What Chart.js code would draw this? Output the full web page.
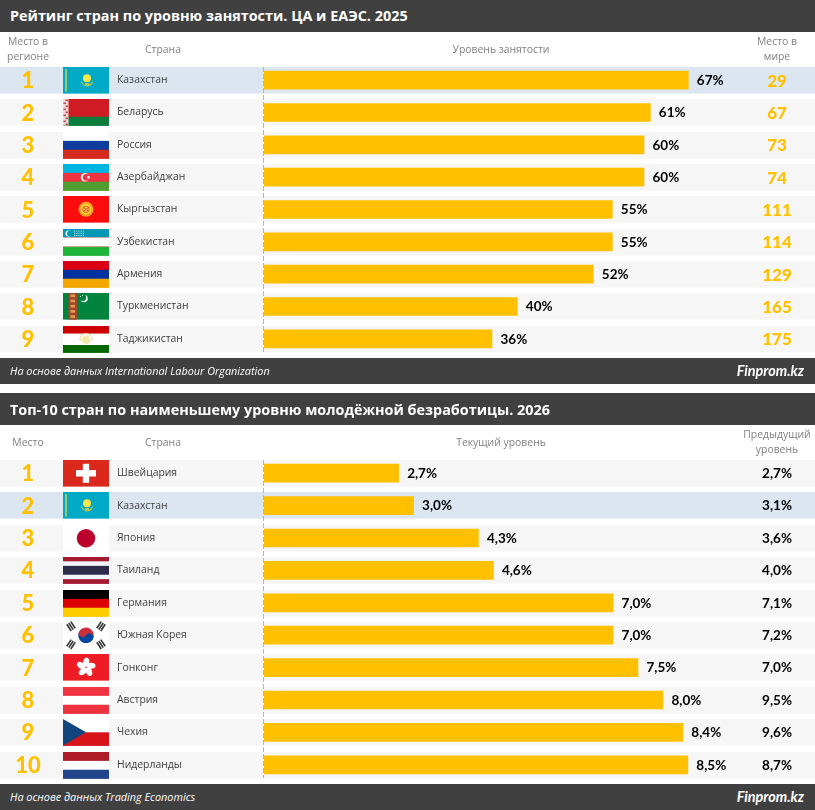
<!DOCTYPE html>
<html lang="ru">
<head>
<meta charset="utf-8">
<script src="https://cdn.jsdelivr.net/npm/chart.js@4"></script>
<style>
html,body{margin:0;padding:0;background:#fff;width:815px;height:810px;overflow:hidden}
#wrap{position:relative;width:815px;height:810px}
canvas{position:absolute;left:0}
.bar{position:absolute;left:0;width:815px;background:#404040}
.t{position:absolute;white-space:nowrap;z-index:3}
.title{left:10px;color:#fff;font:bold 14.4px "Open Sans",sans-serif;line-height:20px}
.src{left:10px;color:#fff;font:italic 10.85px "Open Sans",sans-serif;line-height:16px}
.brand{right:11px;color:#fff;font:italic bold 14.4px "Lato",sans-serif;line-height:18px}
.h{color:#808080;font:10.4px "Open Sans",sans-serif;line-height:15px;text-align:center;transform:translateX(-50%)}
</style>
</head>
<body>
<div id="wrap">
  <canvas id="c1" width="815" height="390" style="top:0;width:815px;height:390px"></canvas>
  <canvas id="c2" width="815" height="420" style="top:390px;width:815px;height:420px"></canvas>

  <div class="bar" style="top:0;height:32px"></div>
  <div class="t title" style="top:6px">Рейтинг стран по уровню занятости. ЦА и ЕАЭС. 2025</div>
  <div class="t h" style="left:28px;top:34px">Место в<br>регионе</div>
  <div class="t h" style="left:163px;top:42px">Страна</div>
  <div class="t h" style="left:501px;top:42px">Уровень занятости</div>
  <div class="t h" style="left:777px;top:34px">Место в<br>мире</div>
  <div class="bar" style="top:358px;height:26px"></div>
  <div class="t src" style="top:363px">На основе данных International Labour Organization</div>
  <div class="t brand" style="top:362px">Finprom.kz</div>

  <div class="bar" style="top:393px;height:32px"></div>
  <div class="t title" style="top:400px">Топ-10 стран по наименьшему уровню молодёжной безработицы. 2026</div>
  <div class="t h" style="left:28px;top:435px">Место</div>
  <div class="t h" style="left:163px;top:435px">Страна</div>
  <div class="t h" style="left:501px;top:435px">Текущий уровень</div>
  <div class="t h" style="left:777px;top:427px">Предыдущий<br>уровень</div>
  <div class="bar" style="top:784px;height:26px"></div>
  <div class="t src" style="top:789px">На основе данных Trading Economics</div>
  <div class="t brand" style="top:788px">Finprom.kz</div>
</div>
<script>
// ---- data: employment ranking ----
const empCountries = ["Казахстан","Беларусь","Россия","Азербайджан","Кыргызстан","Узбекистан","Армения","Туркменистан","Таджикистан"];
const empValues = [67,61,60,60,55,55,52,40,36];
const empRegionRank = [1,2,3,4,5,6,7,8,9];
const empWorldRank = [29,67,73,74,111,114,129,165,175];
const empFlags = ["kz","by","ru","az","kg","uz","am","tm","tj"];

// ---- data: youth unemployment ----
const youthCountries = ["Швейцария","Казахстан","Япония","Таиланд","Германия","Южная Корея","Гонконг","Австрия","Чехия","Нидерланды"];
const youthValues = [2.7,3.0,4.3,4.6,7.0,7.0,7.5,8.0,8.4,8.5];
const youthPrevious = [2.7,3.1,3.6,4.0,7.1,7.2,7.0,9.5,9.6,8.7];
const youthRank = [1,2,3,4,5,6,7,8,9,10];
const youthFlags = ["ch","kz","jp","th","de","kr","hk","at","cz","nl"];

const GOLD = "#ffc000";
const comma = v => v.toFixed(1).replace(".", ",") + "%";

function stripes(c,x,y,w,h,list){
  let total = list.reduce((a,s)=>a+s[1],0), yy = y;
  list.forEach(s=>{const hh=h*s[1]/total;c.fillStyle=s[0];c.fillRect(x,yy,w,hh+0.3);yy+=hh;});
}
function circle(c,x,y,r,col){c.fillStyle=col;c.beginPath();c.arc(x,y,r,0,Math.PI*2);c.fill();}
const flagArt = {
  kz(c,x,y,w,h){
    c.fillStyle="#00a9c6";c.fillRect(x,y,w,h);
    c.fillStyle="#9cc860";c.fillRect(x+2,y+2,2,h-4);
    const cx=x+24,cy=y+h/2;
    c.strokeStyle="#c8c84a";c.lineWidth=1.2;c.beginPath();c.arc(cx,cy-0.5,6,0.1*Math.PI,0.9*Math.PI);c.stroke();
    circle(c,cx,cy-2,4,"#f6e84a");
    c.fillStyle="#d8d050";c.fillRect(cx-2,cy+3,4,1.5);
  },
  by(c,x,y,w,h){
    stripes(c,x,y,w,h,[["#cf1c24",2],["#0a7d3a",1]]);
    c.fillStyle="#f0d8d8";c.fillRect(x,y,5.5,h);
    c.fillStyle="#cf4a50";
    for(let i=0;i<9;i++){c.fillRect(x+(i%2?0.5:2.5),y+i*3+0.5,2.5,1.6);}
  },
  ru(c,x,y,w,h){stripes(c,x,y,w,h,[["#ffffff",1],["#0d3b9e",1],["#d52b1e",1]]);},
  az(c,x,y,w,h){
    stripes(c,x,y,w,h,[["#00b5e2",1],["#ef3340",1],["#509e2f",1]]);
    const cx=x+22,cy=y+h/2;
    circle(c,cx,cy,4.2,"#fff");circle(c,cx+1.2,cy,3.4,"#ef3340");
    circle(c,cx+3.5,cy,1.4,"#fff");
  },
  kg(c,x,y,w,h){
    c.fillStyle="#fb0d0d";c.fillRect(x,y,w,h);
    circle(c,x+23,y+h/2,7.5,"#f5a623");circle(c,x+23,y+h/2,5,"#ffe23a");
    c.strokeStyle="#e8402a";c.lineWidth=1;
    c.beginPath();c.arc(x+23,y+h/2,3.2,0,Math.PI*2);
    c.moveTo(x+20.5,y+h/2-2);c.lineTo(x+25.5,y+h/2+2);c.moveTo(x+25.5,y+h/2-2);c.lineTo(x+20.5,y+h/2+2);c.stroke();
  },
  uz(c,x,y,w,h){
    stripes(c,x,y,w,h,[["#0099b5",31],["#f0a0a0",3],["#ffffff",30],["#f0a0a0",3],["#1eb53a",33]]);
    const cy=y+4.5;
    circle(c,x+5.5,cy,3,"#fff");circle(c,x+6.7,cy,2.7,"#0099b5");
    c.fillStyle="#d5eef2";
    for(let r=0;r<3;r++)for(let q=0;q<5;q++)c.fillRect(x+11+q*2.2,y+1.6+r*2.2,1,1);
  },
  am(c,x,y,w,h){stripes(c,x,y,w,h,[["#d90012",1],["#0033a0",1],["#f2a800",1]]);},
  tm(c,x,y,w,h){
    c.fillStyle="#00843d";c.fillRect(x,y,w,h);
    c.fillStyle="#a8442c";c.fillRect(x+5.5,y,8.5,h);
    c.fillStyle="#d8a050";
    for(let i=0;i<5;i++){c.fillRect(x+7.5,y+1.5+i*5.2,4.5,2.6);}
    circle(c,x+21,y+5.5,3.8,"#e8f5e8");circle(c,x+19.6,y+4.6,3.5,"#00843d");
    c.fillStyle="#e8f5e8";c.fillRect(x+17,y+3,1,1);c.fillRect(x+19,y+2,1,1);
  },
  tj(c,x,y,w,h){
    stripes(c,x,y,w,h,[["#cc0000",2],["#ffffff",3],["#006600",2]]);
    circle(c,x+23,y+h/2+0.5,4.2,"#f4e9a8");
    c.strokeStyle="#e8d580";c.lineWidth=1;c.beginPath();c.arc(x+23,y+h/2,6,0.9*Math.PI,2.1*Math.PI);c.stroke();
  },
  ch(c,x,y,w,h){
    c.fillStyle="#da291c";c.fillRect(x,y,w,h);
    const cx=x+23,cy=y+h/2;
    c.fillStyle="#fff";c.fillRect(cx-10,cy-3.2,20,6.4);c.fillRect(cx-3.2,cy-9.5,6.4,19);
  },
  jp(c,x,y,w,h){c.fillStyle="#fff";c.fillRect(x,y,w,h);circle(c,x+23,y+h/2,9.2,"#bc002d");},
  th(c,x,y,w,h){stripes(c,x,y,w,h,[["#a51931",1],["#f4f5f8",1],["#2d2a4a",2],["#f4f5f8",1],["#a51931",1]]);},
  de(c,x,y,w,h){stripes(c,x,y,w,h,[["#000000",1],["#dd0000",1],["#ffce00",1]]);},
  kr(c,x,y,w,h){
    c.fillStyle="#fff";c.fillRect(x,y,w,h);
    const cx=x+23,cy=y+h/2,r=7.8;
    c.save();c.translate(cx,cy);c.rotate(0.55);
    c.fillStyle="#cd2e3a";c.beginPath();c.arc(0,0,r,Math.PI,0);c.fill();
    c.fillStyle="#0047a0";c.beginPath();c.arc(0,0,r,0,Math.PI);c.fill();
    circle(c,-r/2,0,r/2,"#cd2e3a");circle(c,r/2,0,r/2,"#0047a0");
    c.restore();
    c.fillStyle="#333";
    [[-15,-9,0.98],[15,-9,-0.98],[-15,9,-0.98],[15,9,0.98]].forEach(t=>{
      c.save();c.translate(cx+t[0],cy+t[1]);c.rotate(t[2]);
      for(let i=-1;i<=1;i++)c.fillRect(-4,i*2.4-0.8,8,1.6);
      c.restore();
    });
  },
  hk(c,x,y,w,h){
    c.fillStyle="#ee1c25";c.fillRect(x,y,w,h);
    const cx=x+23,cy=y+h/2;
    c.fillStyle="#fff";
    for(let i=0;i<5;i++){
      c.save();c.translate(cx,cy);c.rotate(i*2*Math.PI/5);
      c.beginPath();c.ellipse(0,-5,3,4.8,0.3,0,Math.PI*2);c.fill();
      c.restore();
    }
    circle(c,cx,cy,0.8,"#ee1c25");
  },
  at(c,x,y,w,h){stripes(c,x,y,w,h,[["#ef3340",1],["#ffffff",1],["#ef3340",1]]);},
  cz(c,x,y,w,h){
    stripes(c,x,y,w,h,[["#ffffff",1],["#d7141a",1]]);
    c.fillStyle="#11457e";c.beginPath();c.moveTo(x,y);c.lineTo(x+23,y+h/2);c.lineTo(x,y+h);c.closePath();c.fill();
  },
  nl(c,x,y,w,h){stripes(c,x,y,w,h,[["#ae1c28",1],["#ffffff",1],["#21468b",1]]);}
};

// Row bands, flags, ranks and side columns, all hung on the chart's own category scale.
const tablePlugin = {
  id:"table",
  beforeDraw(chart,args,o){
    const c=chart.ctx, ys=chart.scales.y, n=chart.data.labels.length;
    c.save();
    for(let i=0;i<n;i++){
      const cy=ys.getPixelForValue(i), top=Math.round(cy-13.2), h=26.6;
      c.fillStyle = i===o.highlight ? "#dce6f1" : "#f6f6f6";
      c.fillRect(0,top,815,h);
      flagArt[o.flags[i]](c,63,top,46,h);
    }
    c.restore();
  },
  afterDatasetsDraw(chart,args,o){
    const c=chart.ctx, ys=chart.scales.y, xs=chart.scales.x, vals=chart.data.datasets[0].data;
    c.save();
    // dashed zero line just left of the bars
    const ax=Math.floor(xs.getPixelForValue(0))-0.5;
    c.strokeStyle="#b4b4b4";c.lineWidth=1;c.setLineDash([5,2]);
    c.beginPath();c.moveTo(ax,chart.chartArea.top+3);c.lineTo(ax,chart.chartArea.bottom-3);c.stroke();
    c.setLineDash([]);
    c.textBaseline="middle";
    vals.forEach((v,i)=>{
      const cy=ys.getPixelForValue(i);
      c.textAlign="left";c.fillStyle="#000";c.font='bold 13.5px "Lato",sans-serif';
      c.fillText(o.fmt(v),xs.getPixelForValue(v)+8.5,cy+0.5);
      c.textAlign="center";c.fillStyle=GOLD;c.font='900 22px "Lato",sans-serif';
      c.fillText(String(o.ranks[i]),28,cy+1);
      if(o.sideGold){
        c.font='900 17px "Lato",sans-serif';
        c.fillText(String(o.side[i]),777,cy+1);
      }else{
        c.fillStyle="#000";c.font='bold 13.5px "Lato",sans-serif';
        c.fillText(o.fmt(o.side[i]),777,cy+0.5);
      }
    });
    c.restore();
  }
};
Chart.register(tablePlugin);

function make(id,labels,values,xMax,pad,table){
  return new Chart(document.getElementById(id),{
    type:"bar",
    data:{labels:labels,datasets:[{data:values,backgroundColor:GOLD,barThickness:18,borderWidth:0}]},
    options:{
      indexAxis:"y",responsive:false,animation:false,devicePixelRatio:1,
      layout:{padding:{left:117,top:pad[0],bottom:pad[1],right:0}},
      plugins:{legend:{display:false},tooltip:{enabled:false},title:{display:false},table:table},
      scales:{
        x:{display:false,min:0,max:xMax},
        y:{
          afterFit(s){s.width=147;},
          grid:{display:false,drawTicks:false},
          border:{display:false},
          ticks:{autoSkip:false,crossAlign:"far",color:"#404040",font:{family:'"Open Sans",sans-serif',size:10.4}}
        }
      }
    }
  });
}
make("c1",empCountries,empValues,87,[64,35],
  {highlight:0,flags:empFlags,ranks:empRegionRank,side:empWorldRank,sideGold:true,fmt:v=>v+"%"});
make("c2",youthCountries,youthValues,11.05,[67,29],
  {highlight:1,flags:youthFlags,ranks:youthRank,side:youthPrevious,sideGold:false,fmt:comma});
</script>
</body>
</html>
